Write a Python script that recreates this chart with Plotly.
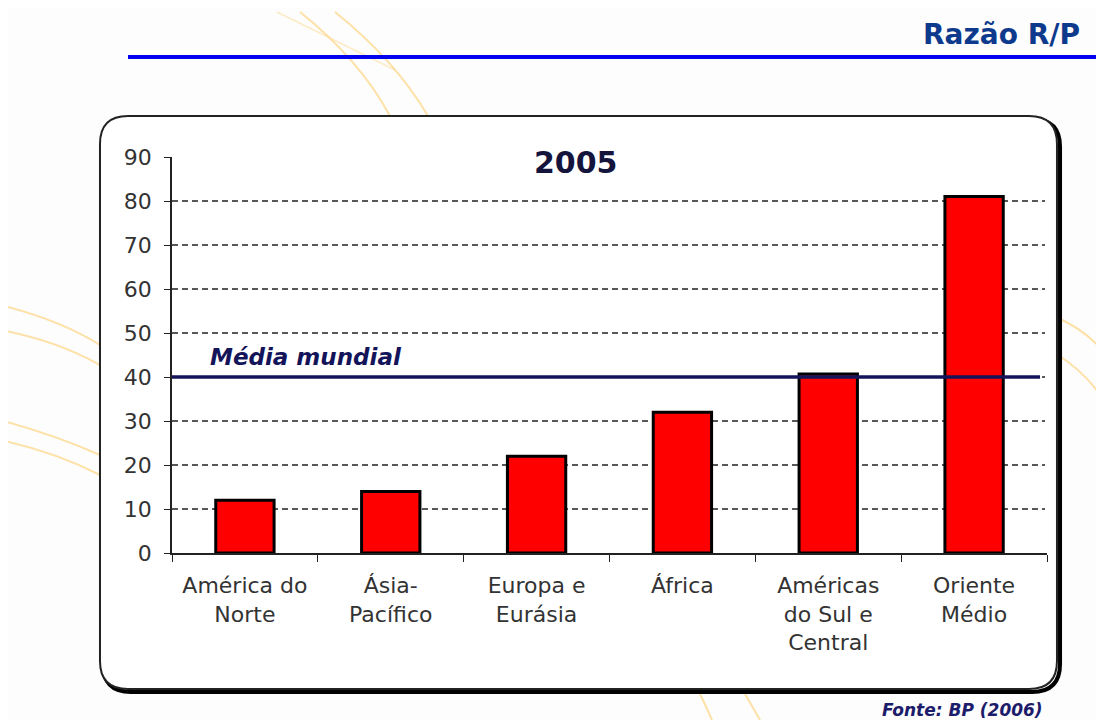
import plotly.graph_objects as go

# dados (Razão R/P, 2005)
regioes = ["América do<br>Norte", "Ásia-<br>Pacífico", "Europa e<br>Eurásia",
           "África", "Américas<br>do Sul e<br>Central", "Oriente<br>Médio"]
razao_rp = [12, 14, 22, 32, 40.7, 81]
media_mundial = 40
y_ticks = [0, 10, 20, 30, 40, 50, 60, 70, 80, 90]
grid_vals = [10, 20, 30, 40, 50, 60, 70, 80]

# a página tem 8px de margem no body: trabalha em pixels da tela e desconta
OFF = 8
W, H = 1104 - OFF, 720 - OFF
# área do gráfico em pixels da tela
X0, X1, Y0, Y1 = 172, 1047, 553, 157


def px(x):
    return (x - X0) / (X1 - X0)


def py(y):
    return (Y0 - y) / (Y0 - Y1)


def P(x, y):
    return f"{px(x):.4f},{py(y):.4f}"


def box_path(L, T, R, B, r):
    return (f"M {P(L + r, T)} L {P(R - r, T)} Q {P(R, T)} {P(R, T + r)} "
            f"L {P(R, B - r)} Q {P(R, B)} {P(R - r, B)} L {P(L + r, B)} "
            f"Q {P(L, B)} {P(L, B - r)} L {P(L, T + r)} Q {P(L, T)} {P(L + r, T)} Z")


fig = go.Figure()
fig.add_trace(go.Bar(
    x=regioes, y=razao_rp, width=0.4,
    marker=dict(color="#ff0000", line=dict(color="#000000", width=3)),
    hoverinfo="x+y",
))

shapes = []
# arcos decorativos do fundo do slide
arc = dict(type="path", xref="paper", yref="paper", layer="below",
           line=dict(color="rgba(252,212,130,0.7)", width=2))
for (x0, y0), (cx, cy), (x1, y1) in [
    ((300, 12), (360, 60), (390, 116)),
    ((335, 12), (395, 60), (428, 116)),
    ((0, 305), (60, 320), (100, 345)),
    ((0, 330), (55, 340), (100, 365)),
    ((0, 420), (55, 435), (100, 455)),
    ((0, 440), (55, 452), (100, 475)),
    ((1058, 318), (1085, 330), (1104, 352)),
    ((1058, 355), (1085, 372), (1104, 400)),
    ((700, 694), (706, 706), (712, 720)),
    ((745, 694), (752, 706), (760, 720)),
]:
    shapes.append(dict(arc, path=f"M {P(x0, y0)} Q {P(cx, cy)} {P(x1, y1)}"))
shapes.append(dict(type="path", xref="paper", yref="paper", layer="below",
                   path=f"M {P(277, 12)} L {P(395, 70)}",
                   line=dict(color="rgba(252,212,130,0.45)", width=1.5)))

# linha azul do cabeçalho
shapes.append(dict(type="line", xref="paper", yref="paper", layer="below",
                   x0=px(128), x1=px(1110), y0=py(57), y1=py(57),
                   line=dict(color="#0000ee", width=4)))
# caixa arredondada com sombra
shapes.append(dict(type="path", xref="paper", yref="paper", layer="below",
                   path=box_path(103, 119, 1060, 692, 28),
                   line=dict(color="#000000", width=4)))
shapes.append(dict(type="path", xref="paper", yref="paper", layer="below",
                   path=box_path(100, 116, 1057, 689, 28),
                   fillcolor="#ffffff", line=dict(color="#222222", width=2)))
# grade tracejada
for g in grid_vals:
    shapes.append(dict(type="line", xref="paper", yref="y", layer="below",
                       x0=0, x1=px(1045), y0=g, y1=g,
                       line=dict(color="#222222", width=1.4, dash="6px,4px")))
# média mundial
shapes.append(dict(type="line", xref="paper", yref="y", layer="above",
                   x0=0, x1=px(1040), y0=media_mundial, y1=media_mundial,
                   line=dict(color="#14145a", width=3.5)))

annotations = [
    dict(text="<b>2005</b>", x=px(576), y=py(162), xref="paper", yref="paper",
         showarrow=False, xanchor="center", yanchor="middle",
         font=dict(family="DejaVu Sans", size=30, color="#14143c")),
    dict(text="<b><i>Média mundial</i></b>", x=px(208), y=py(357),
         xref="paper", yref="paper", showarrow=False, xanchor="left", yanchor="middle",
         font=dict(family="DejaVu Sans", size=23, color="#14145a")),
    dict(text="<b>Razão R/P</b>", x=px(1082), y=py(35), xref="paper", yref="paper",
         showarrow=False, xanchor="right", yanchor="middle",
         font=dict(family="DejaVu Sans", size=28, color="#0d3a8c")),
    dict(text="<b><i>Fonte: BP (2006)</i></b>", x=px(1045), y=py(710),
         xref="paper", yref="paper", showarrow=False, xanchor="right", yanchor="middle",
         font=dict(family="DejaVu Sans", size=17, color="#1c1c6b")),
]

fig.update_layout(
    width=W, height=H,
    margin=dict(l=X0 - OFF, r=W - (X1 - OFF), t=Y1 - OFF, b=H - (Y0 - OFF), pad=0),
    paper_bgcolor="#fdfdfd", plot_bgcolor="rgba(0,0,0,0)",
    showlegend=False, bargap=0.6,
    font=dict(family="DejaVu Sans", size=22, color="#333333"),
    shapes=shapes, annotations=annotations,
    xaxis=dict(showline=True, linecolor="#222222", linewidth=1.5,
               ticks="outside", tickson="boundaries", ticklen=7,
               tickcolor="#222222", showgrid=False, fixedrange=True,
               ticklabelstandoff=12),
    yaxis=dict(range=[0, 90], tickvals=y_ticks, showline=True,
               linecolor="#222222", linewidth=1.5, ticks="outside", ticklen=6,
               tickcolor="#222222", showgrid=False, zeroline=False,
               fixedrange=True, ticklabelstandoff=8),
)

fig.write_html("out.html")
